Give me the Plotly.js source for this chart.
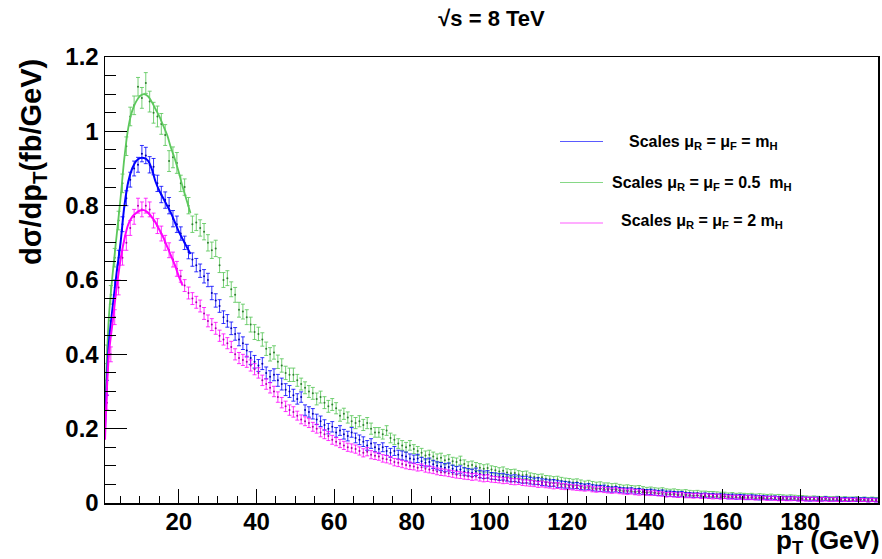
<!DOCTYPE html>
<html>
<head>
<meta charset="utf-8">
<script src="https://cdn.plot.ly/plotly-3.0.1.min.js"></script>
<style>
html,body{margin:0;padding:0;background:#fff;}
#chart{width:882px;height:559px;}
</style>
</head>
<body>
<div id="chart"></div>
<script>
// ---- data: histogram bins of 1 GeV, first bin centre at 1.5 GeV ----
const binStart = 1.5;
const binWidth = 1;
const errBlockWidth = 10; // error sizes read per 10 GeV block

const seriesNames = ["Scales μR = μF = mH", "Scales μR = μF = 0.5 mH", "Scales μR = μF = 2 mH"];

const blueVals = [
0.31,0.47,0.58,0.66,0.75,0.82,0.87,0.90,0.91,0.94,
0.935,0.91,0.905,0.86,0.83,0.815,0.80,0.765,0.75,0.725,
0.70,0.675,0.655,0.64,0.625,0.61,0.60,0.565,0.545,0.53,
0.50,0.49,0.47,0.455,0.44,0.43,0.41,0.39,0.38,0.37,
0.375,0.35,0.34,0.345,0.33,0.32,0.305,0.30,0.29,0.28,
0.285,0.25,0.245,0.24,0.225,0.22,0.21,0.20,0.205,0.19,
0.195,0.185,0.18,0.19,0.175,0.17,0.165,0.155,0.16,0.15,
0.145,0.15,0.14,0.135,0.14,0.13,0.128,0.125,0.12,0.118,
0.12,0.112,0.108,0.11,0.104,0.10,0.098,0.095,0.097,0.092,
0.088,0.09,0.085,0.083,0.081,0.084,0.078,0.076,0.077,0.073,
0.072,0.07,0.071,0.068,0.066,0.067,0.064,0.062,0.063,0.06,
0.058,0.059,0.056,0.055,0.053,0.054,0.051,0.05,0.049,0.048,
0.046,0.047,0.044,0.043,0.044,0.041,0.04,0.039,0.04,0.037,
0.036,0.037,0.035,0.034,0.033,0.034,0.031,0.032,0.03,0.029,
0.03,0.028,0.027,0.028,0.025,0.025,0.024,0.023,0.024,0.022,
0.022,0.021,0.021,0.02,0.021,0.019,0.02,0.018,0.019,0.018,
0.017,0.018,0.016,0.017,0.016,0.015,0.016,0.015,0.014,0.015,
0.014,0.013,0.014,0.012,0.013,0.012,0.013,0.012,0.011,0.012,
0.011,0.01,0.011,0.011,0.01,0.012,0.01,0.01,0.011,0.009,
0.01,0.009,0.01,0.009,0.009,0.01,0.008,0.009,0.008
];
const greenVals = [
0.40,0.56,0.66,0.76,0.86,0.96,1.04,1.07,1.12,1.09,
1.13,1.08,1.05,1.04,1.02,0.99,0.92,0.93,0.915,0.86,
0.85,0.80,0.75,0.755,0.74,0.73,0.70,0.68,0.685,0.64,
0.60,0.605,0.575,0.56,0.52,0.515,0.50,0.48,0.46,0.455,
0.44,0.415,0.40,0.405,0.38,0.37,0.35,0.345,0.345,0.33,
0.32,0.31,0.30,0.295,0.28,0.285,0.27,0.26,0.265,0.255,
0.235,0.24,0.23,0.22,0.215,0.22,0.21,0.215,0.20,0.19,
0.19,0.185,0.195,0.175,0.17,0.16,0.155,0.15,0.155,0.145,
0.14,0.135,0.128,0.13,0.125,0.12,0.122,0.115,0.118,0.112,
0.11,0.115,0.105,0.10,0.102,0.098,0.095,0.092,0.094,0.09,
0.088,0.085,0.087,0.082,0.08,0.081,0.077,0.075,0.076,0.072,
0.07,0.068,0.069,0.065,0.064,0.062,0.063,0.06,0.058,0.057,
0.055,0.056,0.053,0.05,0.052,0.049,0.047,0.048,0.045,0.046,
0.044,0.045,0.042,0.04,0.041,0.039,0.038,0.039,0.036,0.035,
0.036,0.034,0.033,0.034,0.031,0.03,0.031,0.029,0.028,0.029,
0.027,0.026,0.027,0.025,0.025,0.024,0.024,0.023,0.022,0.023,
0.021,0.022,0.02,0.021,0.02,0.019,0.02,0.018,0.019,0.018,
0.017,0.018,0.016,0.017,0.016,0.015,0.016,0.015,0.014,0.015,
0.014,0.013,0.014,0.013,0.012,0.013,0.012,0.012,0.013,0.011,
0.012,0.011,0.011,0.012,0.01,0.011,0.01,0.011,0.01
];
const magentaVals = [
0.27,0.40,0.50,0.58,0.66,0.70,0.74,0.77,0.80,0.79,
0.80,0.79,0.76,0.745,0.725,0.70,0.68,0.655,0.63,0.61,
0.585,0.565,0.55,0.54,0.53,0.51,0.49,0.48,0.47,0.45,
0.44,0.43,0.42,0.40,0.39,0.385,0.38,0.37,0.36,0.35,
0.33,0.32,0.31,0.30,0.285,0.27,0.26,0.25,0.245,0.235,
0.225,0.22,0.215,0.205,0.20,0.19,0.185,0.18,0.17,0.165,
0.16,0.155,0.15,0.148,0.145,0.14,0.135,0.138,0.13,0.127,
0.125,0.12,0.118,0.115,0.11,0.108,0.105,0.102,0.10,0.098,
0.095,0.096,0.092,0.09,0.088,0.085,0.083,0.082,0.08,0.078,
0.076,0.075,0.073,0.072,0.07,0.071,0.068,0.066,0.067,0.064,
0.063,0.062,0.06,0.061,0.058,0.057,0.058,0.055,0.054,0.053,
0.052,0.05,0.051,0.049,0.048,0.046,0.047,0.045,0.044,0.043,
0.042,0.041,0.04,0.039,0.04,0.037,0.036,0.037,0.035,0.034,
0.033,0.034,0.032,0.031,0.03,0.031,0.029,0.028,0.029,0.027,
0.026,0.027,0.025,0.024,0.022,0.023,0.022,0.021,0.022,0.02,
0.02,0.019,0.02,0.018,0.019,0.018,0.017,0.018,0.016,0.017,
0.016,0.015,0.016,0.015,0.014,0.015,0.014,0.013,0.014,0.013,
0.012,0.013,0.012,0.011,0.012,0.011,0.011,0.012,0.01,0.011,
0.01,0.011,0.01,0.009,0.01,0.01,0.009,0.01,0.009,0.009,
0.008,0.009,0.008,0.009,0.008,0.008,0.007,0.008,0.007
];

const blueErr    = [0.02,0.022,0.018,0.017,0.016,0.014,0.013,0.012,0.011,0.01,0.009,0.009,0.008,0.007,0.007,0.006,0.006,0.005,0.005,0.005];
const greenErr   = [0.025,0.028,0.022,0.02,0.018,0.016,0.015,0.013,0.012,0.011,0.01,0.009,0.009,0.008,0.007,0.007,0.006,0.006,0.005,0.005];
const magentaErr = [0.02,0.02,0.016,0.015,0.014,0.012,0.011,0.01,0.009,0.009,0.008,0.008,0.007,0.007,0.006,0.006,0.005,0.005,0.005,0.004];

// smooth curves drawn over the low-pT region
const blueCurveX = [1,2,3,4,5,6,7,8,9,10,11,12,13,14,15,16,17,18,19,20,21,22,23];
const blueCurveY = [0.20,0.43,0.53,0.62,0.70,0.80,0.865,0.90,0.92,0.928,0.928,0.922,0.90,0.865,0.84,0.82,0.80,0.78,0.755,0.73,0.71,0.69,0.67];
const greenCurveX = [1,2,3,4,5,6,7,8,9,10,11,12,13,14,15,16,17,18,19,20,21,22,23];
const greenCurveY = [0.24,0.50,0.62,0.72,0.82,0.93,1.01,1.055,1.08,1.095,1.10,1.095,1.08,1.06,1.04,1.015,0.99,0.955,0.925,0.89,0.85,0.815,0.78];
const magentaCurveX = [1,2,3,4,5,6,7,8,9,10,11,12,13,14,15,16,17,18,19,20,21];
const magentaCurveY = [0.17,0.40,0.49,0.58,0.655,0.71,0.75,0.77,0.78,0.787,0.788,0.782,0.77,0.755,0.735,0.715,0.69,0.665,0.64,0.61,0.585];

const xTickVals = [20,40,60,80,100,120,140,160,180];
const xTickText = ["20","40","60","80","100","120","140","160","180"];
const yTickVals = [0,0.2,0.4,0.6,0.8,1,1.2];
const yTickText = ["0","0.2","0.4","0.6","0.8","1","1.2"];

// ---- styling ----
const BLUE = "#0000ff", GREEN = "#5cc85c", MAGENTA = "#ff00ff";
const FONT = "Liberation Sans, Arial, Helvetica, sans-serif";

function binX(vals){ return vals.map((v,i)=> binStart + i*binWidth); }
function binErr(vals, blocks){
  return vals.map((v,i)=>{
    const b = Math.min(blocks.length-1, Math.floor((binStart + i*binWidth)/errBlockWidth));
    return blocks[b];
  });
}
function histTrace(vals, errs, color, errColor){
  return {
    type:"scatter", mode:"markers",
    x: binX(vals), y: vals,
    marker:{size:2, color: color},
    error_y:{type:"data", array: binErr(vals, errs), visible:true, color: errColor, thickness:1, width:2},
    showlegend:false, hoverinfo:"skip"
  };
}
function curveTrace(x, y, color, w){
  return {type:"scatter", mode:"lines", x:x, y:y, line:{shape:"spline", smoothing:1, color:color, width:w}, showlegend:false, hoverinfo:"skip"};
}

const data = [
  histTrace(greenVals, greenErr, "#2e7d2e", "rgba(92,200,92,0.85)"),
  histTrace(blueVals, blueErr, "#0000aa", "rgba(0,0,255,0.8)"),
  histTrace(magentaVals, magentaErr, "#aa00aa", "rgba(255,0,255,0.8)"),
  curveTrace(greenCurveX, greenCurveY, GREEN, 1.8),
  curveTrace(blueCurveX, blueCurveY, BLUE, 2),
  curveTrace(magentaCurveX, magentaCurveY, MAGENTA, 2)
];

// plot area in pixels: x 105..878, y 57..503
const L = 105, R = 878, T = 57, B = 503;
const px = v => (v - L)/(R - L);
const py = v => (B - v)/(B - T);

const legendRows = [
  {y:141.5, x0:560, x1:603, color:"#5a5aff", textX:627, textY:142, text:"Scales μ<sub>R</sub> = μ<sub>F</sub> = m<sub>H</sub>"},
  {y:182.5, x0:560, x1:603, color:"#86d886", textX:610, textY:183, text:"Scales μ<sub>R</sub> = μ<sub>F</sub> = 0.5  m<sub>H</sub>"},
  {y:223,   x0:560, x1:603, color:"#ff5cff", textX:619, textY:222, text:"Scales μ<sub>R</sub> = μ<sub>F</sub> = 2 m<sub>H</sub>"}
];

const shapes = legendRows.map(r=>({type:"line", xref:"paper", yref:"paper", x0:px(r.x0), x1:px(r.x1), y0:py(r.y), y1:py(r.y), line:{color:r.color, width:1.2}}));
const annotations = legendRows.map(r=>({xref:"paper", yref:"paper", x:px(r.textX), y:py(r.textY), xanchor:"left", yanchor:"middle", text:r.text, showarrow:false, font:{family:FONT, size:16, color:"#000", weight:700}}));

annotations.push({xref:"paper", yref:"paper", x:px(33), y:py(57), xanchor:"center", yanchor:"top", textangle:-90, text:"dσ/dp<sub>T</sub>(fb/GeV)", showarrow:false, font:{family:FONT, size:29, color:"#000", weight:700}});
annotations.push({xref:"paper", yref:"paper", x:px(882), y:py(541), xanchor:"right", yanchor:"middle", text:"p<sub>T</sub> (GeV)", showarrow:false, font:{family:FONT, size:26, color:"#000", weight:700}});

const layout = {
  width:882, height:559,
  margin:{l:L, r:882-R, t:T, b:559-B, pad:0},
  paper_bgcolor:"#fff", plot_bgcolor:"#fff",
  title:{text:"√s = 8 TeV", x:0.5, xref:"paper", xanchor:"center", y:1-18/559, yref:"container", yanchor:"middle", font:{family:FONT, size:22, color:"#000", weight:700}},
  xaxis:{
    range:[1,200], showgrid:false, zeroline:false,
    showline:true, linecolor:"#000", linewidth:1.5, mirror:true,
    ticks:"inside", ticklen:14, tickwidth:1, tickcolor:"#000",
    tickvals:xTickVals, ticktext:xTickText,
    tickfont:{family:FONT, size:24, color:"#000", weight:700},
    ticklabelstandoff:-3,
    minor:{ticks:"inside", ticklen:7, tickwidth:1, tickcolor:"#000", dtick:5, tick0:0, showgrid:false}
  },
  yaxis:{
    range:[0,1.2], showgrid:false, zeroline:false,
    showline:true, linecolor:"#000", linewidth:1.5, mirror:true,
    ticks:"inside", ticklen:22, tickwidth:1, tickcolor:"#000",
    tickvals:yTickVals, ticktext:yTickText,
    tickfont:{family:FONT, size:24, color:"#000", weight:700},
    minor:{ticks:"inside", ticklen:11, tickwidth:1, tickcolor:"#000", dtick:0.05, tick0:0, showgrid:false}
  },
  shapes:shapes,
  annotations:annotations,
  showlegend:false
};

Plotly.newPlot("chart", data, layout, {displayModeBar:false, staticPlot:true});
</script>
</body>
</html>
